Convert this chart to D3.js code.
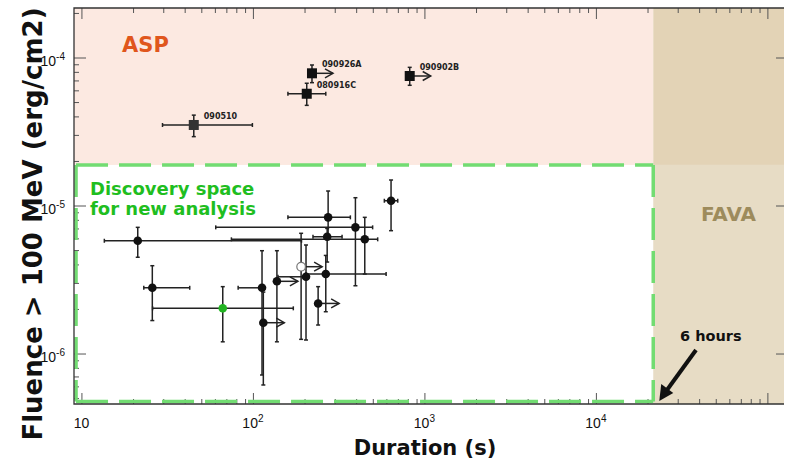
<!DOCTYPE html>
<html>
<head>
<meta charset="utf-8">
<script src="https://cdn.jsdelivr.net/npm/d3@7"></script>
<style>
body { margin: 0; background: #fff; }
svg { display: block; font-family: "DejaVu Sans", sans-serif; }
</style>
</head>
<body>
<svg id="chart"></svg>
<script>
// ASP bursts (squares)
const aspNames    = ["090510", "080916C", "090926A", "090902B"];
const aspDuration = [45.2, 206, 221, 821];
const aspDurLow   = [29.7, 160, 221, 821];
const aspDurHigh  = [99.3, 266, 221, 821];
const aspFluence  = [3.5e-5, 5.69e-5, 7.82e-5, 7.5e-5];
const aspFluLow   = [2.92e-5, 4.75e-5, 6.76e-5, 6.49e-5];
const aspFluHigh  = [4.08e-5, 6.7e-5, 8.9e-5, 8.58e-5];
const aspLimit    = [false, false, true, true];

// bursts from the new analysis (circles)
const newDuration = [21.3, 25.9, 66.7, 113, 115, 138, 191, 204, 240, 266, 271, 274.5, 396, 449, 639];
const newDurLow   = [13.6, 23.1, 26.0, 82, 115, 138, 191, 140, 240, 204, 224, 160, 60.7, 74.9, 584];
const newDurHigh  = [192, 42.8, 172, 113, 115, 138, 191, 204, 240, 598, 331, 370, 499, 534, 699];
const newFluence  = [5.78e-6, 2.78e-6, 2.02e-6, 2.78e-6, 1.615e-6, 3.075e-6, 3.86e-6, 3.30e-6, 2.18e-6, 3.445e-6, 6.15e-6, 8.32e-6, 7.12e-6, 5.91e-6, 1.077e-5];
const newFluLow   = [4.47e-6, 1.67e-6, 1.20e-6, 7.16e-7, 6.13e-7, 1.20e-6, 1.247e-6, 1.234e-6, 1.558e-6, 1.916e-6, 4.15e-6, 5.9e-6, 2.87e-6, 3.445e-6, 6.76e-6];
const newFluHigh  = [7.12e-6, 3.92e-6, 2.83e-6, 4.95e-6, 2.6e-6, 4.95e-6, 6.49e-6, 5.41e-6, 2.83e-6, 4.6e-6, 7.0e-6, 1.253e-5, 1.129e-5, 8.32e-6, 1.487e-5];
const newLimit    = [false, false, false, false, true, true, true, false, true, false, false, false, false, false, false];
const newMarker   = ["filled", "filled", "green", "filled", "filled", "filled", "open", "filled",
                     "filled", "filled", "filled", "filled", "filled", "filled", "filled"];

// region boundaries
const sixHours = 21600;          // s
const aspFloor = 1.88e-5;        // erg/cm2
const discoveryBox = { x0: 9.3, x1: sixHours, y0: 4.75e-7, y1: aspFloor };

// ticks
const xLabelTicks = [10, 100, 1000, 10000];
const xLabelExp   = ["", "2", "3", "4"];
const yLabelTicks = [1e-4, 1e-5, 1e-6];
const yLabelExp   = ["-4", "-5", "-6"];

const svgWidth = 785, svgHeight = 461;
const plotLeft = 74, plotRight = 784, plotTop = 8, plotBottom = 404;

const svg = d3.select("#chart").attr("width", svgWidth).attr("height", svgHeight);

const x = d3.scaleLog().domain([9.05, 125000]).range([plotLeft, plotRight]);
const y = d3.scaleLog().domain([4.56e-7, 2.16e-4]).range([plotBottom, plotTop]);

const isMajor = v => Math.abs(Math.log10(v) - Math.round(Math.log10(v))) < 1e-6;

/* ---------- background regions ---------- */
const PINK = "#fce9e1", FAVA_TOP = "#e3d3b6", FAVA_LOW = "#e7dcc5";

svg.append("rect").attr("x", plotLeft).attr("y", plotTop)
    .attr("width", x(sixHours) - plotLeft).attr("height", y(aspFloor) - plotTop).attr("fill", PINK);
svg.append("rect").attr("x", x(sixHours)).attr("y", plotTop)
    .attr("width", plotRight - x(sixHours)).attr("height", y(aspFloor) - plotTop).attr("fill", FAVA_TOP);
svg.append("rect").attr("x", x(sixHours)).attr("y", y(aspFloor))
    .attr("width", plotRight - x(sixHours)).attr("height", plotBottom - y(aspFloor)).attr("fill", FAVA_LOW);

/* ---------- ticks ---------- */
const xMinor = x.ticks().filter(v => !isMajor(v));
const xMajor = x.ticks().filter(isMajor);
const yMinor = y.ticks().filter(v => !isMajor(v));
const yMajor = y.ticks().filter(isMajor);

function ticks(axis, transform) {
    svg.append("g")
        .attr("transform", transform)
        .attr("color", "#555")
        .call(axis)
        .call(g => g.select(".domain").remove())
        .call(g => g.selectAll("line").attr("stroke-width", 1));
}
ticks(d3.axisBottom(x).tickValues(xMinor).tickSize(-5).tickFormat(""), `translate(0,${plotBottom})`);
ticks(d3.axisBottom(x).tickValues(xMajor).tickSize(-11).tickFormat(""), `translate(0,${plotBottom})`);
ticks(d3.axisTop(x).tickValues(xMinor).tickSize(-5).tickFormat(""), `translate(0,${plotTop})`);
ticks(d3.axisTop(x).tickValues(xMajor).tickSize(-11).tickFormat(""), `translate(0,${plotTop})`);
ticks(d3.axisLeft(y).tickValues(yMinor).tickSize(-5).tickFormat(""), `translate(${plotLeft},0)`);
ticks(d3.axisLeft(y).tickValues(yMajor).tickSize(-12).tickFormat(""), `translate(${plotLeft},0)`);
ticks(d3.axisRight(y).tickValues(yMajor).tickSize(-8).tickFormat(""), `translate(${plotRight},0)`);

/* ---------- discovery box (dashed green) ---------- */
const GREEN_DASH = "#72dc72";
const boxSides = [
    [[discoveryBox.x0, discoveryBox.y1], [discoveryBox.x1, discoveryBox.y1]],
    [[discoveryBox.x1, discoveryBox.y1], [discoveryBox.x1, discoveryBox.y0]],
    [[discoveryBox.x0, discoveryBox.y0], [discoveryBox.x1, discoveryBox.y0]],
    [[discoveryBox.x0, discoveryBox.y1], [discoveryBox.x0, discoveryBox.y0]]
];
svg.append("g").selectAll("line")
    .data(boxSides)
    .enter()
    .append("line")
    .attr("x1", d => x(d[0][0])).attr("y1", d => y(d[0][1]))
    .attr("x2", d => x(d[1][0])).attr("y2", d => y(d[1][1]))
    .attr("stroke", GREEN_DASH)
    .attr("stroke-width", 3.5)
    .attr("stroke-dasharray", "32,11");

/* ---------- frame ---------- */
svg.append("path")
    .attr("d", `M${plotRight},${plotTop}H${plotLeft}V${plotBottom}H${plotRight}`)
    .attr("fill", "none").attr("stroke", "#333").attr("stroke-width", 1.3);

/* ---------- tick labels ---------- */
const tickLab = svg.append("g").attr("font-family", "Liberation Sans, Arial, sans-serif").attr("font-size", 14).attr("fill", "#111");
xLabelTicks.forEach((v, i) => {
    const t = tickLab.append("text").attr("x", x(v)).attr("y", 428).attr("text-anchor", "middle");
    t.append("tspan").text("10");
    if (xLabelExp[i]) t.append("tspan").attr("font-size", 10).attr("dy", -6).text(xLabelExp[i]);
});
yLabelTicks.forEach((v, i) => {
    const t = tickLab.append("text").attr("x", 65).attr("y", y(v) + 8).attr("text-anchor", "end");
    t.append("tspan").text("10");
    t.append("tspan").attr("font-size", 10).attr("dy", -6).text(yLabelExp[i]);
});

/* ---------- error bars ---------- */
const ERR = "#222";
function errorBars(g, dur, durLo, durHi, flu, fluLo, fluHi) {
    const cap = 2;
    d3.range(dur.length).forEach(i => {
        const cx = x(dur[i]), cy = y(flu[i]);
        if (durLo[i] !== durHi[i]) {
            g.append("line").attr("x1", x(durLo[i])).attr("x2", x(durHi[i])).attr("y1", cy).attr("y2", cy);
            [durLo[i], durHi[i]].forEach(v => g.append("line")
                .attr("x1", x(v)).attr("x2", x(v)).attr("y1", cy - cap).attr("y2", cy + cap));
        }
        g.append("line").attr("x1", cx).attr("x2", cx).attr("y1", y(fluLo[i])).attr("y2", y(fluHi[i]));
        [fluLo[i], fluHi[i]].forEach(v => g.append("line")
            .attr("x1", cx - cap).attr("x2", cx + cap).attr("y1", y(v)).attr("y2", y(v)));
    });
}
function limitArrows(g, dur, flu, limit) {
    d3.range(dur.length).filter(i => limit[i]).forEach(i => {
        const cx = x(dur[i]), cy = y(flu[i]), end = cx + 21;
        g.append("line").attr("x1", cx).attr("x2", end).attr("y1", cy).attr("y2", cy);
        g.append("path").attr("fill", "none")
            .attr("d", `M${end - 8},${cy - 4.5}L${end},${cy}L${end - 8},${cy + 4.5}`);
    });
}

const errG = svg.append("g").attr("stroke", ERR).attr("stroke-width", 1.5);
errorBars(errG, aspDuration, aspDurLow, aspDurHigh, aspFluence, aspFluLow, aspFluHigh);
errorBars(errG, newDuration, newDurLow, newDurHigh, newFluence, newFluLow, newFluHigh);
limitArrows(errG, aspDuration, aspFluence, aspLimit);
limitArrows(errG, newDuration, newFluence, newLimit);

/* ---------- markers ---------- */
svg.append("g").selectAll("rect")
    .data(d3.range(aspNames.length))
    .enter()
    .append("rect")
    .attr("x", i => x(aspDuration[i]) - 5)
    .attr("y", i => y(aspFluence[i]) - 5)
    .attr("width", 10).attr("height", 10)
    .attr("fill", i => i === 0 ? "#333" : "#111");

svg.append("g").selectAll("circle")
    .data(d3.range(newDuration.length))
    .enter()
    .append("circle")
    .attr("cx", i => x(newDuration[i]))
    .attr("cy", i => y(newFluence[i]))
    .attr("r", 4.3)
    .attr("fill", i => newMarker[i] === "green" ? "#22b422" : newMarker[i] === "open" ? "#fff" : "#111")
    .attr("stroke", i => newMarker[i] === "open" ? "#777" : "none")
    .attr("stroke-width", 1.2);

svg.append("g").selectAll("text")
    .data(d3.range(aspNames.length))
    .enter()
    .append("text")
    .attr("x", i => x(aspDuration[i]) + 10)
    .attr("y", i => y(aspFluence[i]) - 6)
    .attr("font-size", 8)
    .attr("font-weight", "bold")
    .attr("fill", "#222")
    .text(i => aspNames[i]);

/* ---------- region labels ---------- */
svg.append("text").attr("x", 122).attr("y", 52).attr("font-size", 21).attr("font-weight", "bold")
    .attr("fill", "#e0561c").text("ASP");
svg.append("text").attr("x", 701).attr("y", 221).attr("font-size", 20).attr("font-weight", "bold")
    .attr("fill", "#9d8b5c").text("FAVA");
const disc = svg.append("text").attr("font-size", 18).attr("font-weight", "bold").attr("fill", "#1fbe1f");
disc.append("tspan").attr("x", 90).attr("y", 195).text("Discovery space");
disc.append("tspan").attr("x", 90).attr("y", 215).text("for new analysis");

/* ---------- 6 hours annotation ---------- */
svg.append("text").attr("x", 680).attr("y", 341).attr("font-size", 14.5).attr("font-weight", "bold")
    .attr("fill", "#111").text("6 hours");
const tipX = x(sixHours) + 6, tipY = plotBottom - 3;
svg.append("line").attr("x1", 696).attr("y1", 350).attr("x2", tipX + 7).attr("y2", tipY - 10)
    .attr("stroke", "#111").attr("stroke-width", 4);
svg.append("path")
    .attr("d", `M${tipX},${tipY}L${tipX + 2},${tipY - 17}L${tipX + 14},${tipY - 8}Z`)
    .attr("fill", "#111");

/* ---------- axis titles ---------- */
svg.append("text").attr("x", 425).attr("y", 455).attr("text-anchor", "middle")
    .attr("font-size", 21).attr("font-weight", "bold").attr("fill", "#111").text("Duration (s)");
svg.append("text").attr("transform", "translate(42,224) rotate(-90)").attr("text-anchor", "middle")
    .attr("font-size", 26).attr("font-weight", "bold").attr("fill", "#111").text("Fluence > 100 MeV (erg/cm2)");
</script>
</body>
</html>
